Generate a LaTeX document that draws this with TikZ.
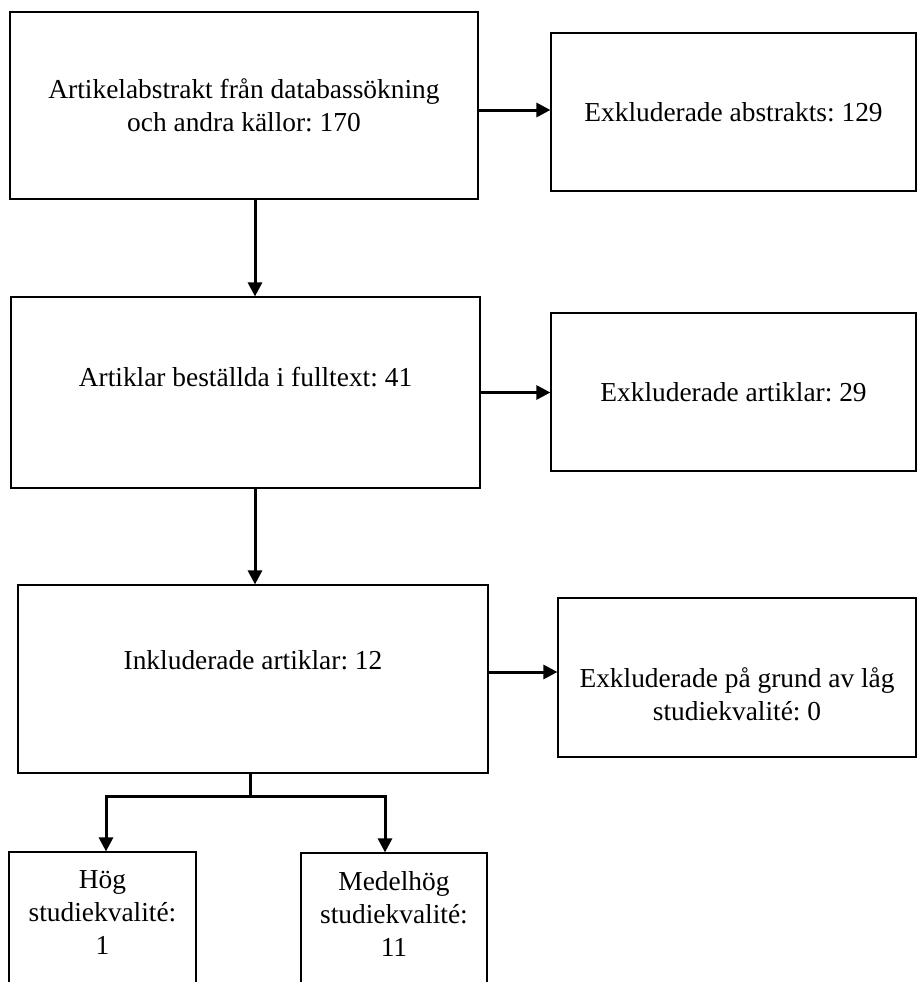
\documentclass[tikz,border=0pt]{standalone}
\usepackage{fontspec}
\setmainfont{Liberation Serif}
\usetikzlibrary{arrows.meta}
\frenchspacing
\tikzset{
  box/.style={draw,line width=1.2pt,rectangle,align=center,inner sep=0pt,
    font=\fontsize{27.4}{33}\selectfont},
  lbl/.style={align=center,inner sep=0pt,font=\fontsize{27.4}{33}\selectfont},
  arr/.style={line width=3pt,-{Triangle[length=14pt,width=14pt]}},
  lne/.style={line width=3pt},
}
\begin{document}
\begin{tikzpicture}[x=1pt,y=-1pt]
  \clip (0,0) rectangle (918,982);
  \node[box,minimum width=468pt,minimum height=187pt] (abs) at (244,105.5)
    {Artikelabstrakt från databassökning\\och andra källor: 170};
  \node[box,minimum width=365pt,minimum height=158pt] (exabs) at (733.5,112)
    {Exkluderade abstrakts: 129};
  \node[box,minimum width=469pt,minimum height=191pt,
    label={[lbl,yshift=15pt]center:Artiklar beställda i fulltext: 41}] (full) at (245.5,392.5) {};
  \node[box,minimum width=365pt,minimum height=158pt] (exart) at (733.5,392)
    {Exkluderade artiklar: 29};
  \node[box,minimum width=470pt,minimum height=188pt,
    label={[lbl,yshift=19pt]center:Inkluderade artiklar: 12}] (inc) at (253,679) {};
  \node[box,minimum width=358pt,minimum height=159pt,
    label={[lbl,yshift=-17pt]center:{Exkluderade på grund av låg\\studiekvalité: 0}}] (exlow) at (737,677.5) {};
  \node[box,minimum width=187pt,minimum height=200pt,
    label={[lbl,yshift=39pt]center:{Hög\\studiekvalité:\\1}}] (hog) at (102.5,952) {};
  \node[box,minimum width=186pt,minimum height=200pt,
    label={[lbl,yshift=39pt]center:{Medelhög\\studiekvalité:\\11}}] (med) at (394,953) {};
  \coordinate (split) at (250,796);
  % flow down
  \draw[arr] ([xshift=11pt]abs.south) -- ([xshift=11pt]abs.south |- full.north);
  \draw[arr] ([xshift=9.5pt]full.south) -- ([xshift=9.5pt]full.south |- inc.north);
  % exclusions
  \draw[arr] ([yshift=-4.5pt]abs.east) -- ([yshift=-4.5pt]abs.east -| exabs.west);
  \draw[arr] (full.east) -- (full.east -| exart.west);
  \draw[arr] ([yshift=7pt]inc.east) -- ([yshift=7pt]inc.east -| exlow.west);
  % split into quality groups
  \draw[lne] (split |- inc.south) -- (split);
  \draw[arr] (split) -| ([xshift=3.5pt]hog.north);
  \draw[arr] (split) -| ([xshift=-9pt]med.north);
\end{tikzpicture}
\end{document}
